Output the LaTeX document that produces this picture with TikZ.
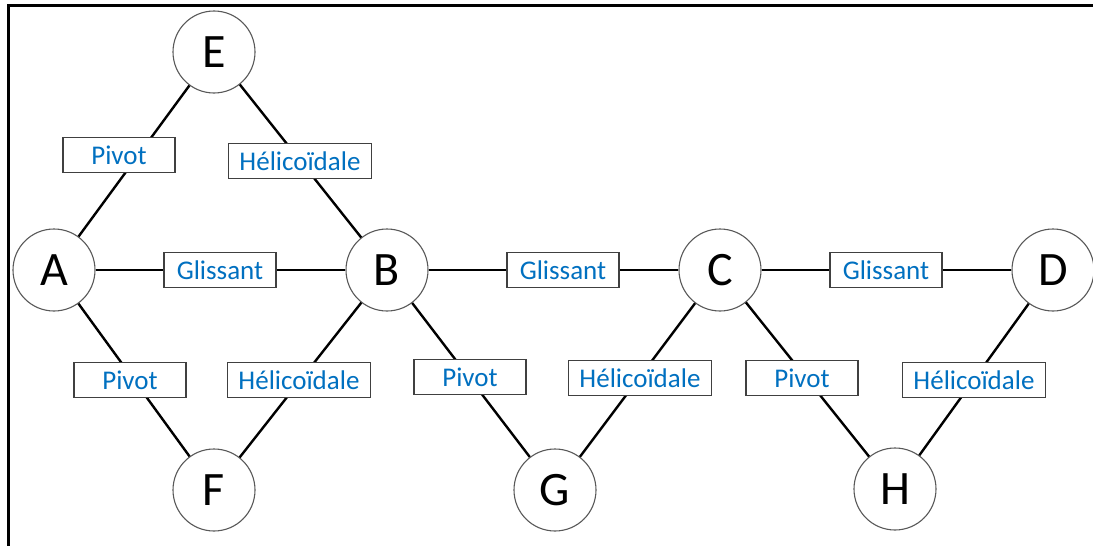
\documentclass[tikz,border=0pt]{standalone}
\usepackage{fontspec}
\setmainfont{Carlito}
\usepackage{xcolor}
\usepackage{tikz}
\definecolor{office-blue}{RGB}{0,112,192}

\begin{document}
\begin{tikzpicture}[x=1pt, y=-1pt, piece/.style = {shape=circle,
          draw=black!65, fill=white, line width=1.1pt, inner sep=0pt,
          minimum size=82pt, text height=31pt, text depth=0pt,
          font=\fontsize{48}{48}\selectfont}, liaison/.style =
        {shape=rectangle, draw=black!75, fill=white, line width=1.2pt,
          text=office-blue, inner xsep=11pt, minimum width=112pt,
          minimum height=35pt, text height=18pt, text depth=0pt,
          font=\fontsize{27}{27}\selectfont}, link/.style={line width=2.4pt}]

        \useasboundingbox (0,0) rectangle (1093,546);
        \draw[line width=2.6pt] (8.7,546) -- (8.7,5.5) -- (1093,5.5);

        \node [piece] (E) at (214,52) {E};
        \node [piece] (A) at (54,270) {A};
        \node [piece] (B) at (387,270) {B};
        \node [piece] (C) at (720,270) {C};
        \node [piece] (D) at (1053,270) {D};
        \node [piece] (F) at (214,490) {F};
        \node [piece] (G) at (555,490) {G};
        \node [piece] (H) at (895,489) {H};

        \draw [link] (E) -- (A);
        \draw [link] (E) -- (B);
        \draw [link] (A) -- (B);
        \draw [link] (B) -- (C);
        \draw [link] (C) -- (D);
        \draw [link] (A) -- (F);
        \draw [link] (B) -- (F);
        \draw [link] (B) -- (G);
        \draw [link] (C) -- (G);
        \draw [link] (C) -- (H);
        \draw [link] (D) -- (H);

        \node [liaison] (EA) at (119,155) {Pivot};
        \node [liaison] (EB) at (300,161) {Hélicoïdale};
        \node [liaison] (AB) at (220,270) {Glissant};
        \node [liaison] (BC) at (563,270) {Glissant};
        \node [liaison] (CD) at (886,270) {Glissant};
        \node [liaison] (AF) at (130,380) {Pivot};
        \node [liaison] (BF) at (299,380) {Hélicoïdale};
        \node [liaison] (BG) at (470,377) {Pivot};
        \node [liaison] (CG) at (640,378) {Hélicoïdale};
        \node [liaison] (CH) at (802,378) {Pivot};
        \node [liaison] (DH) at (974,380) {Hélicoïdale};
      \end{tikzpicture}
\end{document}
